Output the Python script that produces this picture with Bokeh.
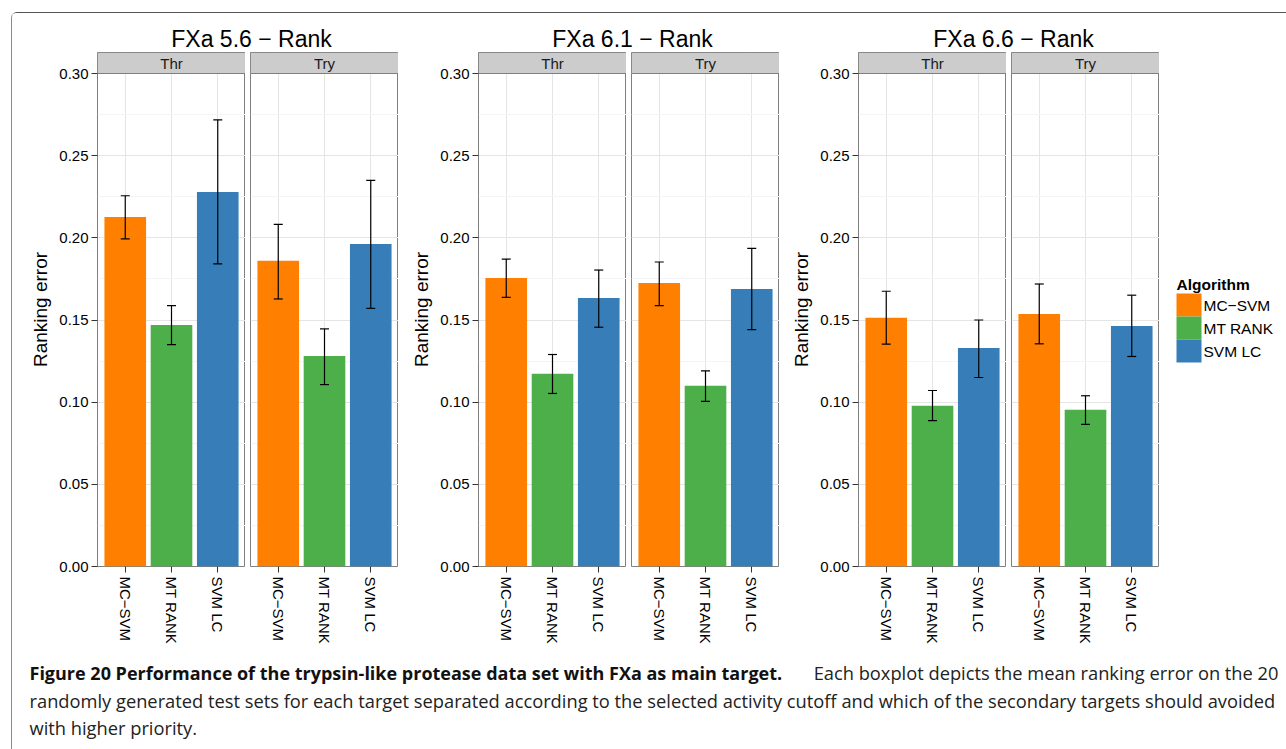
from bokeh.plotting import figure
from bokeh.layouts import row, column
from bokeh.models import (Range1d, FixedTicker, PrintfTickFormatter, ColumnDataSource,
                          Whisker, TeeHead, Label)
from bokeh.core.properties import value
from bokeh.embed import file_html
from bokeh.resources import INLINE

# ---------------- data ----------------
algorithms = ["MC\u2212SVM", "MT RANK", "SVM LC"]
colors = ["#FF7F00", "#4DAF4A", "#377EB8"]
cutoff_titles = ["FXa 5.6 \u2212 Rank", "FXa 6.1 \u2212 Rank", "FXa 6.6 \u2212 Rank"]
targets = ["Thr", "Try"]
legend_title = "Algorithm"
y_ticks = [0.00, 0.05, 0.10, 0.15, 0.20, 0.25, 0.30]
y_minor = [0.025, 0.075, 0.125, 0.175, 0.225, 0.275]

# mean ranking error per algorithm, with lower / upper error-bar ends
fxa56_thr_mean = [0.2127, 0.1470, 0.2279]
fxa56_thr_lo = [0.1994, 0.1350, 0.1841]
fxa56_thr_hi = [0.2256, 0.1587, 0.2718]
fxa56_try_mean = [0.1861, 0.1281, 0.1963]
fxa56_try_lo = [0.1628, 0.1107, 0.1571]
fxa56_try_hi = [0.2082, 0.1446, 0.2350]

fxa61_thr_mean = [0.1756, 0.1173, 0.1634]
fxa61_thr_lo = [0.1638, 0.1053, 0.1456]
fxa61_thr_hi = [0.1871, 0.1290, 0.1804]
fxa61_try_mean = [0.1725, 0.1100, 0.1689]
fxa61_try_lo = [0.1588, 0.1005, 0.1442]
fxa61_try_hi = [0.1853, 0.1191, 0.1936]

fxa66_thr_mean = [0.1513, 0.0978, 0.1330]
fxa66_thr_lo = [0.1353, 0.0888, 0.1150]
fxa66_thr_hi = [0.1675, 0.1071, 0.1500]
fxa66_try_mean = [0.1537, 0.0954, 0.1464]
fxa66_try_lo = [0.1355, 0.0865, 0.1278]
fxa66_try_hi = [0.1719, 0.1039, 0.1651]

caption_bold = "Figure 20 Performance of the trypsin-like protease data set with FXa as main target."
caption_line1 = "Each boxplot depicts the mean ranking error on the 20"
caption_line2 = ("randomly generated test sets for each target separated according to the selected "
                 "activity cutoff and which of the secondary targets should avoided")
caption_line3 = "with higher priority."

groups = [
    [(fxa56_thr_mean, fxa56_thr_lo, fxa56_thr_hi), (fxa56_try_mean, fxa56_try_lo, fxa56_try_hi)],
    [(fxa61_thr_mean, fxa61_thr_lo, fxa61_thr_hi), (fxa61_try_mean, fxa61_try_lo, fxa61_try_hi)],
    [(fxa66_thr_mean, fxa66_thr_lo, fxa66_thr_hi), (fxa66_try_mean, fxa66_try_lo, fxa66_try_hi)],
]

# ---------------- layout constants ----------------
FONT_NAME = "Liberation Sans"
FONT = value(FONT_NAME)
FRAME_W = 148
DATA_H = 493              # pixels for 0 .. 0.30
STRIP_H = 21
FRAME_H = DATA_H + STRIP_H
Y_MAX = y_ticks[-1]
Y_TOP = Y_MAX * FRAME_H / DATA_H
BOTTOM = 86
ROW_H = FRAME_H + BOTTOM
TITLE_H = 39
CAP_H = 749 - 13 - TITLE_H - ROW_H
LEG_W = 127
left_borders = [[85, 5], [80, 5], [79, 5]]
TOTAL_W = sum(l + FRAME_W for lb in left_borders for l in lb) + LEG_W
title_centers = [239, 620, 1001]

xs = [i + 1 for i in range(len(algorithms))]
x_lo, x_hi = xs[0] - 0.6, xs[-1] + 0.6


def facet(mean, lo, hi, strip, lb, show_y):
    p = figure(width=lb + FRAME_W, height=ROW_H,
               x_range=Range1d(x_lo, x_hi), y_range=Range1d(0, Y_TOP),
               output_backend="svg", toolbar_location=None, title=None,
               min_border_left=lb, min_border_right=0, min_border_top=0,
               min_border_bottom=BOTTOM,
               y_axis_location="left" if show_y else None)
    p.outline_line_color = "#7F7F7F"
    p.outline_line_width = 1

    # grid
    p.xgrid.ticker = FixedTicker(ticks=xs)
    p.xgrid.grid_line_color = "#E5E5E5"
    p.ygrid.ticker = FixedTicker(ticks=y_ticks, minor_ticks=y_minor)
    p.ygrid.grid_line_color = "#E5E5E5"
    p.ygrid.minor_grid_line_color = "#F4F4F4"

    src = ColumnDataSource(dict(x=xs, mean=mean, lo=lo, hi=hi, color=colors, alg=algorithms))
    p.vbar(x="x", top="mean", width=0.9, bottom=0, fill_color="color",
           line_color=None, source=src)
    w = Whisker(source=src, base="x", upper="hi", lower="lo", line_color="black",
                line_width=1.2, level="overlay",
                upper_head=TeeHead(size=9, line_color="black", line_width=1.2),
                lower_head=TeeHead(size=9, line_color="black", line_width=1.2))
    p.add_layout(w)

    # facet strip
    p.quad(left=[x_lo], right=[x_hi], bottom=[Y_MAX], top=[Y_TOP],
           fill_color="#CCCCCC", line_color="#7F7F7F", line_width=1)
    p.text(x=[(x_lo + x_hi) / 2], y=[(Y_MAX + Y_TOP) / 2], text=[strip],
           text_align="center", text_baseline="middle", text_font_size="15px",
           text_font=FONT, text_color="#1A1A1A")

    # x axis
    ax = p.xaxis[0]
    ax.ticker = FixedTicker(ticks=xs)
    ax.major_label_overrides = {x: a for x, a in zip(xs, algorithms)}
    ax.major_label_orientation = "vertical"
    ax.major_label_text_font = FONT_NAME
    ax.major_label_text_font_size = "15px"
    ax.major_label_text_color = "black"
    ax.major_tick_out = 6
    ax.major_tick_in = 0
    ax.major_tick_line_color = "#333333"
    ax.minor_tick_line_color = None
    ax.axis_line_color = None
    ax.major_label_standoff = 4

    if show_y:
        ay = p.yaxis[0]
        ay.ticker = FixedTicker(ticks=y_ticks)
        ay.formatter = PrintfTickFormatter(format="%.2f")
        ay.major_label_text_font = FONT_NAME
        ay.major_label_text_font_size = "15px"
        ay.major_label_text_color = "black"
        ay.major_tick_out = 6
        ay.major_tick_in = 0
        ay.major_tick_line_color = "#333333"
        ay.minor_tick_line_color = None
        ay.axis_line_color = None
        ay.major_label_standoff = 3
        ay.axis_label = "Ranking error"
        ay.axis_label_text_font = FONT_NAME
        ay.axis_label_text_font_size = "19px"
        ay.axis_label_text_font_style = "normal"
        ay.axis_label_text_color = "black"
        ay.axis_label_standoff = 5
    return p


def blank(width, height, bottom=0):
    p = figure(width=width, height=height, x_range=Range1d(0, width),
               y_range=Range1d(0, height - bottom), output_backend="svg",
               toolbar_location=None, title=None, min_border=0, min_border_bottom=bottom,
               x_axis_location=None, y_axis_location=None)
    p.grid.visible = False
    p.outline_line_color = None
    return p


facets = []
for g, pair in enumerate(groups):
    for t, (m, lo, hi) in enumerate(pair):
        facets.append(facet(m, lo, hi, targets[t], left_borders[g][t], t == 0))

# legend panel (drawn from the algorithm / colour lists); its frame matches the facets' frames
leg = blank(LEG_W, ROW_H, BOTTOM)
KEY_W, KEY_H = 25, 23
key_left = 17
key_top = 273                    # top of first key, measured up from the frame bottom
n = len(algorithms)
leg_src = ColumnDataSource(dict(
    left=[key_left] * n, right=[key_left + KEY_W] * n,
    top=[key_top - KEY_H * i for i in range(n)],
    bottom=[key_top - KEY_H * (i + 1) for i in range(n)],
    ty=[key_top - KEY_H * (i + 0.5) for i in range(n)],
    tx=[key_left + KEY_W + 2] * n,
    color=colors, label=algorithms))
leg.quad(left="left", right="right", top="top", bottom="bottom", fill_color="color",
         line_color=None, source=leg_src)
leg.text(x="tx", y="ty", text="label", text_font=FONT, text_font_size="15.5px",
         text_baseline="middle", text_align="left", text_color="black", source=leg_src)
leg.add_layout(Label(x=key_left, y=key_top + 9, x_units="screen", y_units="screen",
                     text=legend_title, text_font=FONT_NAME, text_font_size="15.5px",
                     text_font_style="bold", text_baseline="middle", text_color="black"))

# titles strip
titles = blank(TOTAL_W, TITLE_H)
for cx, txt in zip(title_centers, cutoff_titles):
    titles.add_layout(Label(x=cx, y=14, x_units="screen", y_units="screen", text=txt,
                            text_align="center", text_baseline="middle", text_font=FONT_NAME,
                            text_font_size="23px", text_color="black"))

# caption
cap = blank(TOTAL_W, CAP_H)
CFONT = "Open Sans"
cap.add_layout(Label(x=17, y=77, x_units="screen", y_units="screen", text=caption_bold,
                     text_font=CFONT, text_font_size="18px", text_font_style="bold",
                     text_color="#111111", text_baseline="middle"))
cap.add_layout(Label(x=1266, y=77, x_units="screen", y_units="screen", text=caption_line1,
                     text_font=CFONT, text_font_size="18.3px", text_align="right",
                     text_color="#222222", text_baseline="middle"))
cap.add_layout(Label(x=17, y=49, x_units="screen", y_units="screen", text=caption_line2,
                     text_font=CFONT, text_font_size="18.3px", text_color="#222222",
                     text_baseline="middle"))
cap.add_layout(Label(x=17, y=22, x_units="screen", y_units="screen", text=caption_line3,
                     text_font=CFONT, text_font_size="18.3px", text_color="#222222",
                     text_baseline="middle"))

layout = column(titles, row(*facets, leg), cap,
                styles={"margin-left": "11px", "margin-top": "12px",
                        "border-left": "1px solid #8a8a8a", "border-top": "1px solid #555555",
                        "border-top-left-radius": "6px"})

open("out.html", "w").write(file_html(layout, INLINE))
